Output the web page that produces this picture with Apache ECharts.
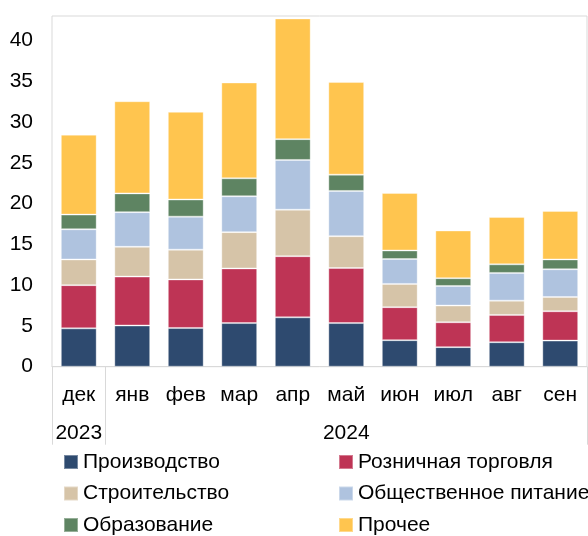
<!DOCTYPE html>
<html>
<head>
<meta charset="utf-8">
<script src="https://cdn.jsdelivr.net/npm/echarts@6/dist/echarts.min.js"></script>
<style>
html,body{margin:0;padding:0;background:#fff;}
#chart{width:588px;height:536px;}
</style>
</head>
<body>
<div id="chart"></div>
<script>
var months = ['дек','янв','фев','мар','апр','май','июн','июл','авг','сен'];
var yearLabels = ['2023','','','','','2024','','','',''];
var seriesNames = ['Производство','Розничная торговля','Строительство','Общественное питание','Образование','Прочее'];
var production   = [4.7, 5.05, 4.75, 5.35, 6.05, 5.35, 3.25, 2.4, 3.0, 3.2];
var retail       = [5.3, 6.0, 5.95, 6.7, 7.5, 6.75, 4.05, 3.05, 3.35, 3.6];
var construction = [3.15, 3.65, 3.65, 4.45, 5.7, 3.9, 2.85, 2.05, 1.75, 1.75];
var catering     = [3.7, 4.25, 4.05, 4.4, 6.1, 5.55, 3.05, 2.4, 3.4, 3.4];
var education    = [1.8, 2.3, 2.1, 2.2, 2.55, 2.0, 1.05, 0.95, 1.05, 1.2];
var other        = [9.8, 11.3, 10.75, 11.75, 14.8, 11.35, 7.05, 5.85, 5.8, 5.95];
var yTicks = [0, 5, 10, 15, 20, 25, 30, 35, 40];

var colors = ['#2E4A6F','#BE3455','#D6C4A8','#AFC3DF','#5E8462','#FFC54F'];
var allData = [production, retail, construction, catering, education, other];
var font = 'Liberation Sans, Arial, sans-serif';
var fs = 21;

var chart = echarts.init(document.getElementById('chart'), null, {renderer:'canvas'});
var series = seriesNames.map(function(n, i){
  return {
    name: n, type: 'bar', stack: 'total', data: allData[i],
    barCategoryGap: '33%',
    itemStyle: {color: colors[i], borderColor: 'rgba(255,255,255,0.35)', borderWidth: 1},
    emphasis: {disabled: true}
  };
});
// legend layout: two columns, three rows
var legendCols = [63, 338];
var legendRows = [451.5, 483, 514.5];
var legends = seriesNames.map(function(n, i){
  return {
    data: [n], left: legendCols[i % 2], top: legendRows[Math.floor(i / 2)],
    padding: 0, icon: 'rect', itemWidth: 14, itemHeight: 14,
    textStyle: {fontSize: fs, color: '#000', fontFamily: font}, selectedMode: false
  };
});
chart.setOption({
  animation: false,
  color: colors,
  textStyle: {fontFamily: font},
  grid: {left: 52, top: 16, width: 535, bottom: 169.3, show: true, borderColor: '#d9d9d9', borderWidth: 1, backgroundColor: 'transparent'},
  xAxis: {
    type: 'category', data: months,
    axisLine: {show: true, lineStyle: {color: '#d9d9d9', width: 1}},
    axisTick: {show: true, length: 78, lineStyle: {color: '#d9d9d9', width: 1},
      interval: function(i){ return i <= 1; }},
    axisLabel: {
      interval: 0, margin: 10, color: '#000', fontSize: fs, fontFamily: font, lineHeight: 38,
      formatter: function(v, i){ return v + '\n' + yearLabels[i]; }
    }
  },
  yAxis: {
    type: 'value', min: 0, max: 43, interval: 5,
    axisLine: {show: false}, axisTick: {show: false}, splitLine: {show: false},
    axisLabel: {color: '#000', fontSize: fs, fontFamily: font, margin: 19,
      formatter: function(v){ return yTicks.indexOf(v) >= 0 ? String(v) : ''; }}
  },
  legend: legends,
  series: series
});
</script>
</body>
</html>
